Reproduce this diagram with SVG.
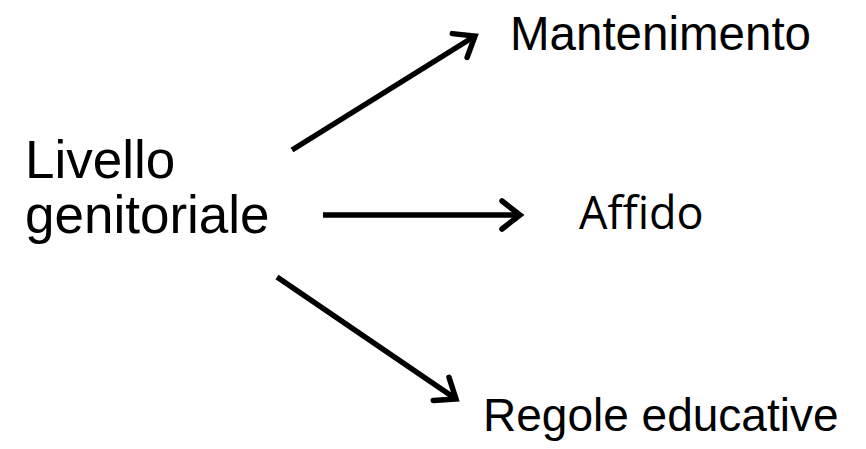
<svg xmlns="http://www.w3.org/2000/svg" width="866" height="449" viewBox="0 0 866 449">
  <style>
    .lbl { font-family: "Liberation Sans", Arial, sans-serif; fill: #000; }
    .alt { font-family: "Open Sans", "Noto Sans", sans-serif; fill: #000; }
    .edge { stroke: #000; stroke-width: 5.5; fill: none; marker-end: url(#head); }
  </style>
  <defs>
    <!-- open chevron arrowhead, sized in user units -->
    <marker id="head" markerUnits="userSpaceOnUse" viewBox="-26 -18 32 36" markerWidth="32" markerHeight="36" refX="0" refY="0" orient="auto">
      <path d="M-18,-14 L0,0 L-18,14" fill="none" stroke="#000" stroke-width="5.5" stroke-linecap="round" stroke-linejoin="miter"/>
    </marker>
  </defs>
  <rect width="866" height="449" fill="#fff"/>

  <g id="source">
    <text class="lbl" x="25" y="178" font-size="53">Livello</text>
    <text class="lbl" x="25" y="233" font-size="53">genitoriale</text>
  </g>
  <g id="mantenimento">
    <text class="lbl" x="510" y="50" font-size="47.5">Mantenimento</text>
  </g>
  <g id="affido">
    <text class="alt" x="579" y="229" font-size="45">Affido</text>
  </g>
  <g id="regole">
    <text class="lbl" x="483" y="431" font-size="46">Regole educative</text>
  </g>

  <g id="connectors">
    <line class="edge" x1="292" y1="150" x2="475" y2="36"/>
    <line class="edge" x1="323" y1="215" x2="520" y2="215"/>
    <line class="edge" x1="277" y1="277" x2="456" y2="399"/>
  </g>
</svg>
